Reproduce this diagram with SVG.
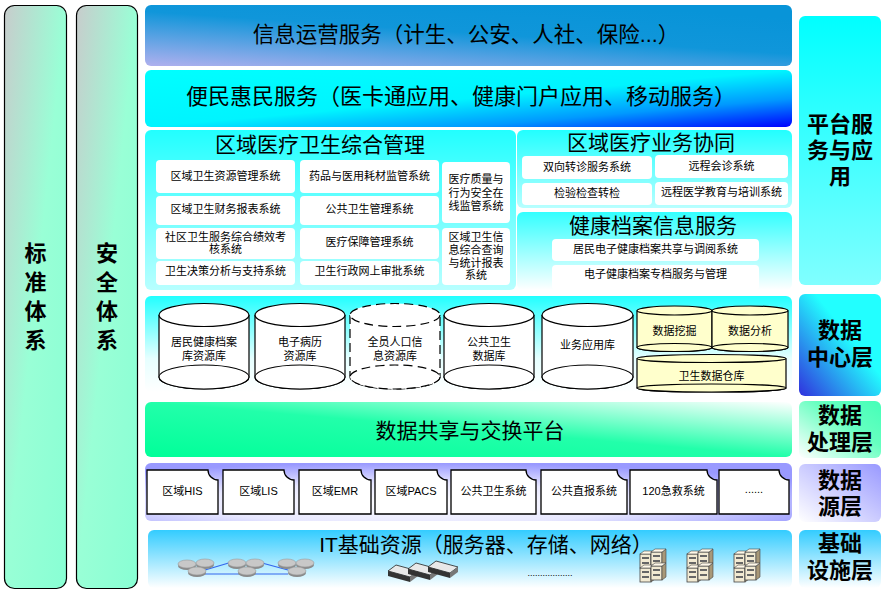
<svg xmlns="http://www.w3.org/2000/svg" width="894" height="596" viewBox="0 0 894 596">
<style>
text{font-family:"Liberation Sans","Noto Sans CJK SC",sans-serif;fill:#000;text-anchor:middle;dominant-baseline:central}
.t21{font-size:21px}
.t11{font-size:11px}
.lb{font-size:22px;font-weight:bold}
.wb{fill:#fff}
.cyl{fill:#fff;stroke:#000;stroke-width:1.2}
.cyd{fill:#fff;stroke:#000;stroke-width:1.2;stroke-dasharray:9 5}
.ycl{fill:#ffffcc;stroke:#000;stroke-width:1.2}
.doc{fill:#fff;stroke:#000;stroke-width:1.3}
</style>
<defs>
<linearGradient id="gCol" x1="0" y1="0" x2="1" y2="1"><stop offset="0" stop-color="#c8cccc"/><stop offset="0.5" stop-color="#99ffd6"/><stop offset="1" stop-color="#88ffd4"/></linearGradient>
<linearGradient id="gTop" x1="0" y1="1" x2="0.7" y2="0"><stop offset="0" stop-color="#b0b0ee"/><stop offset="0.6" stop-color="#1096da"/><stop offset="1" stop-color="#0894d8"/></linearGradient>
<linearGradient id="gBar2" x1="0" y1="0" x2="1" y2="1"><stop offset="0" stop-color="#00ffff"/><stop offset="0.5" stop-color="#00f4ff"/><stop offset="0.75" stop-color="#0099ff"/><stop offset="1" stop-color="#0000ff"/></linearGradient>
<linearGradient id="gPanA" x1="0" y1="0" x2="0" y2="1"><stop offset="0" stop-color="#22ffff"/><stop offset="1" stop-color="#b8ffff"/></linearGradient>
<linearGradient id="gPanC" x1="0" y1="0" x2="0" y2="1"><stop offset="0" stop-color="#33ffff"/><stop offset="1" stop-color="#ffffff"/></linearGradient>
<linearGradient id="gL1" x1="0" y1="0" x2="0" y2="1"><stop offset="0" stop-color="#00ffff"/><stop offset="1" stop-color="#80ffff"/></linearGradient>
<linearGradient id="gDC" x1="0" y1="0" x2="0" y2="1"><stop offset="0" stop-color="#22ffff"/><stop offset="0.65" stop-color="#e6ffff"/><stop offset="1" stop-color="#ffffff"/></linearGradient>
<linearGradient id="gL2" x1="0" y1="1" x2="1" y2="0"><stop offset="0" stop-color="#3030dd"/><stop offset="0.6" stop-color="#22ffff"/><stop offset="1" stop-color="#22ffff"/></linearGradient>
<linearGradient id="gDP" x1="0" y1="1" x2="1" y2="0"><stop offset="0" stop-color="#00ff99"/><stop offset="0.5" stop-color="#22ffaa"/><stop offset="1" stop-color="#ffffff"/></linearGradient>
<linearGradient id="gL3" x1="0" y1="1" x2="1" y2="0"><stop offset="0" stop-color="#ffffff"/><stop offset="0.6" stop-color="#66ffc0"/><stop offset="1" stop-color="#44ffb8"/></linearGradient>
<radialGradient id="gDS" cx="0.42" cy="0.7" r="0.7"><stop offset="0" stop-color="#ffffff"/><stop offset="0.5" stop-color="#e8e8ff"/><stop offset="1" stop-color="#9999ff"/></radialGradient>
<linearGradient id="gL4" x1="0" y1="1" x2="1" y2="0"><stop offset="0" stop-color="#ffffff"/><stop offset="1" stop-color="#9999ff"/></linearGradient>
<linearGradient id="gIN" x1="0" y1="0" x2="0" y2="1"><stop offset="0" stop-color="#33ccff"/><stop offset="1" stop-color="#ffffff"/></linearGradient>
<g id="router"><ellipse cx="0" cy="2" rx="9" ry="4" fill="#8a8a8a"/><ellipse cx="0" cy="0" rx="9" ry="4" fill="#c8c8c8" stroke="#999" stroke-width="0.6"/></g>
<g id="switch"><polygon points="0,6 8,0 30,6 22,12" fill="#e8e8e8" stroke="#222" stroke-width="0.8"/><polygon points="0,6 22,12 22,17 0,11" fill="#333"/><polygon points="22,12 30,6 30,11 22,17" fill="#777"/></g>
<g id="srv"><rect x="0" y="0" width="11" height="14" fill="#f2ead2" stroke="#444" stroke-width="0.8"/><polygon points="11,0 15,-3 15,11 11,14" fill="#a89878" stroke="#444" stroke-width="0.6"/><polygon points="0,0 4,-3 15,-3 11,0" fill="#fff8e8" stroke="#444" stroke-width="0.6"/><rect x="2" y="3" width="7" height="2" fill="#666"/><rect x="2" y="8" width="7" height="2" fill="#666"/></g>
</defs>

<g id="col-standard"><rect x="4.5" y="5.5" width="62" height="583" rx="10" fill="url(#gCol)" stroke="#000" stroke-width="1.2"/>
<text class="lb" x="35.5" y="253">标</text><text class="lb" x="35.5" y="282">准</text><text class="lb" x="35.5" y="311">体</text><text class="lb" x="35.5" y="340">系</text></g>
<g id="col-security"><rect x="76.5" y="5.5" width="61" height="583" rx="10" fill="url(#gCol)" stroke="#000" stroke-width="1.2"/>
<text class="lb" x="107" y="253">安</text><text class="lb" x="107" y="282">全</text><text class="lb" x="107" y="311">体</text><text class="lb" x="107" y="340">系</text></g>

<g id="info-ops"><rect x="145" y="5" width="647" height="61" rx="6" fill="url(#gTop)"/><text class="t21" x="466" y="35" style="font-size:21.5px">信息运营服务（计生、公安、人社、保险...）</text></g>
<g id="convenience"><rect x="145" y="70" width="647" height="57" rx="6" fill="url(#gBar2)"/><text class="t21" x="461" y="96" style="font-size:22px">便民惠民服务（医卡通应用、健康门户应用、移动服务）</text></g>

<g id="regional-mgmt"><rect x="145" y="130" width="371" height="160" rx="6" fill="url(#gPanA)"/>
<text class="t21" x="320" y="144">区域医疗卫生综合管理</text>
<rect class="wb" x="156" y="160" width="139" height="33" rx="4"/><text class="t11" x="225.5" y="176">区域卫生资源管理系统</text>
<rect class="wb" x="300" y="160" width="139" height="33" rx="4"/><text class="t11" x="369.5" y="176">药品与医用耗材监管系统</text>
<rect class="wb" x="156" y="196" width="139" height="29" rx="4"/><text class="t11" x="225.5" y="209">区域卫生财务报表系统</text>
<rect class="wb" x="300" y="196" width="139" height="29" rx="4"/><text class="t11" x="369.5" y="209">公共卫生管理系统</text>
<rect class="wb" x="156" y="228" width="139" height="31" rx="4"/><text class="t11" x="225.5" y="237">社区卫生服务综合绩效考</text><text class="t11" x="225.5" y="249">核系统</text>
<rect class="wb" x="300" y="228" width="139" height="31" rx="4"/><text class="t11" x="369.5" y="242">医疗保障管理系统</text>
<rect class="wb" x="156" y="261" width="139" height="24" rx="4"/><text class="t11" x="225.5" y="271">卫生决策分析与支持系统</text>
<rect class="wb" x="300" y="261" width="139" height="24" rx="4"/><text class="t11" x="369.5" y="271">卫生行政网上审批系统</text>
<rect class="wb" x="442" y="162" width="68" height="61" rx="4"/><text class="t11" x="476" y="179">医疗质量与</text><text class="t11" x="476" y="192.5">行为安全在</text><text class="t11" x="476" y="206">线监管系统</text>
<rect class="wb" x="442" y="228" width="68" height="57" rx="4"/><text class="t11" x="476" y="237">区域卫生信</text><text class="t11" x="476" y="250">息综合查询</text><text class="t11" x="476" y="262.5">与统计报表</text><text class="t11" x="476" y="275">系统</text>
</g>

<g id="regional-collab"><rect x="517" y="130" width="275" height="78" rx="6" fill="url(#gPanA)"/>
<text class="t21" x="651" y="142">区域医疗业务协同</text>
<rect class="wb" x="522" y="156" width="130" height="23" rx="4"/><text class="t11" x="587" y="167">双向转诊服务系统</text>
<rect class="wb" x="655" y="155" width="133" height="23" rx="4"/><text class="t11" x="721.5" y="166">远程会诊系统</text>
<rect class="wb" x="522" y="183" width="130" height="22" rx="4"/><text class="t11" x="587" y="193">检验检查转检</text>
<rect class="wb" x="655" y="182" width="133" height="23" rx="4"/><text class="t11" x="721.5" y="192">远程医学教育与培训系统</text>
</g>

<g id="health-records"><rect x="517" y="212" width="275" height="78" rx="6" fill="url(#gPanC)"/>
<text class="t21" x="653" y="225">健康档案信息服务</text>
<rect class="wb" x="552" y="239" width="207" height="22" rx="4"/><text class="t11" x="655.5" y="249">居民电子健康档案共享与调阅系统</text>
<rect class="wb" x="552" y="265" width="207" height="25" rx="4"/><text class="t11" x="655.5" y="274">电子健康档案专档服务与管理</text>
</g>

<g id="label-platform"><rect x="799" y="16" width="82" height="269" rx="6" fill="url(#gL1)"/>
<text class="lb" x="840" y="124">平台服</text><text class="lb" x="840" y="150">务与应</text><text class="lb" x="840" y="176">用</text></g>

<g id="data-center"><rect x="145" y="296" width="647" height="96" rx="6" fill="url(#gDC)"/>
<g id="db1"><path class="cyl" d="M159,315 V377 A45,12 0 0 0 249,377 V315"/><ellipse class="cyl" cx="204" cy="315" rx="45" ry="11.5"/><ellipse class="cyl" cx="204" cy="377" rx="45" ry="12"/>
<text class="t11" x="204" y="342">居民健康档案</text><text class="t11" x="204" y="355.5">库资源库</text></g>
<g id="db2"><path class="cyl" d="M255,315 V377 A45,12 0 0 0 345,377 V315"/><ellipse class="cyl" cx="300" cy="315" rx="45" ry="11.5"/><ellipse class="cyl" cx="300" cy="377" rx="45" ry="12"/>
<text class="t11" x="300" y="342">电子病历</text><text class="t11" x="300" y="355.5">资源库</text></g>
<g id="db3"><path class="cyd" d="M350,315 V377 A45,12 0 0 0 440,377 V315"/><ellipse class="cyd" cx="395" cy="315" rx="45" ry="11.5"/><ellipse class="cyd" cx="395" cy="377" rx="45" ry="12"/>
<text class="t11" x="395" y="342">全员人口信</text><text class="t11" x="395" y="355.5">息资源库</text></g>
<g id="db4"><path class="cyl" d="M444,315 V377 A45,12 0 0 0 534,377 V315"/><ellipse class="cyl" cx="489" cy="315" rx="45" ry="11.5"/><ellipse class="cyl" cx="489" cy="377" rx="45" ry="12"/>
<text class="t11" x="489" y="342">公共卫生</text><text class="t11" x="489" y="355.5">数据库</text></g>
<g id="db5"><path class="cyl" d="M542,315 V377 A45.5,12 0 0 0 633,377 V315"/><ellipse class="cyl" cx="587.5" cy="315" rx="45.5" ry="11.5"/><ellipse class="cyl" cx="587.5" cy="377" rx="45.5" ry="12"/>
<text class="t11" x="587.5" y="345">业务应用库</text></g>
<g id="mining"><path class="ycl" d="M637,310.5 V347.5 A37.5,4 0 0 0 712,347.5 V310.5"/><ellipse class="ycl" cx="674.5" cy="310.5" rx="37.5" ry="4.5"/><ellipse class="ycl" cx="674.5" cy="347.5" rx="37.5" ry="4"/><text class="t11" x="674.5" y="331">数据挖掘</text></g>
<g id="analysis"><path class="ycl" d="M712,310.5 V347.5 A38,4 0 0 0 788,347.5 V310.5"/><ellipse class="ycl" cx="750" cy="310.5" rx="38" ry="4.5"/><ellipse class="ycl" cx="750" cy="347.5" rx="38" ry="4"/><text class="t11" x="750" y="331">数据分析</text></g>
<g id="warehouse"><path class="ycl" d="M637,358.5 V388 A74.5,4 0 0 0 786,388 V358.5"/><ellipse class="ycl" cx="711.5" cy="358.5" rx="74.5" ry="4"/><ellipse class="ycl" cx="711.5" cy="388" rx="74.5" ry="4"/><text class="t11" x="711.5" y="376">卫生数据仓库</text></g>
</g>
<g id="label-datacenter"><rect x="799" y="294" width="82" height="102" rx="6" fill="url(#gL2)"/>
<text class="lb" x="840" y="330">数据</text><text class="lb" x="840" y="357">中心层</text></g>

<g id="data-exchange"><rect x="145" y="402" width="647" height="55" rx="6" fill="url(#gDP)"/><text class="t21" x="470" y="430">数据共享与交换平台</text></g>
<g id="label-processing"><rect x="799" y="401" width="82" height="57" rx="6" fill="url(#gL3)"/>
<text class="lb" x="840" y="415">数据</text><text class="lb" x="840" y="442">处理层</text></g>

<g id="data-source"><rect x="145" y="463" width="647" height="58" rx="6" fill="url(#gDS)"/>
<g id="src1"><path class="doc" d="M147,470 H208 A10,10 0 0 0 218,480 V514 H147 Z"/><text class="t11" x="182.5" y="491">区域HIS</text></g>
<g id="src2"><path class="doc" d="M223,470 H284 A10,10 0 0 0 294,480 V514 H223 Z"/><text class="t11" x="258.5" y="491">区域LIS</text></g>
<g id="src3"><path class="doc" d="M299,470 H361 A10,10 0 0 0 371,480 V514 H299 Z"/><text class="t11" x="335" y="491">区域EMR</text></g>
<g id="src4"><path class="doc" d="M375,470 H437 A10,10 0 0 0 447,480 V514 H375 Z"/><text class="t11" x="411" y="491">区域PACS</text></g>
<g id="src5"><path class="doc" d="M451,470 H526 A10,10 0 0 0 536,480 V514 H451 Z"/><text class="t11" x="493.5" y="491">公共卫生系统</text></g>
<g id="src6"><path class="doc" d="M541,470 H617 A10,10 0 0 0 627,480 V514 H541 Z"/><text class="t11" x="584" y="491">公共直报系统</text></g>
<g id="src7"><path class="doc" d="M630,470 H707 A10,10 0 0 0 717,480 V514 H630 Z"/><text class="t11" x="673.5" y="491">120急救系统</text></g>
<g id="src8"><path class="doc" d="M719,470 H779 A10,10 0 0 0 789,480 V514 H719 Z"/><text class="t11" x="754" y="489">......</text></g>
</g>
<g id="label-source"><rect x="799" y="464" width="82" height="58" rx="6" fill="url(#gL4)"/>
<text class="lb" x="840" y="480">数据</text><text class="lb" x="840" y="506">源层</text></g>

<g id="infrastructure"><rect x="148" y="530" width="644" height="58" rx="6" fill="url(#gIN)"/>
<text class="t21" x="486" y="544">IT基础资源（服务器、存储、网络）</text>
<g id="network">
<g stroke="#3366ee" stroke-width="1.2" fill="none"><line x1="205" y1="570" x2="232" y2="562"/><line x1="205" y1="574" x2="288" y2="574"/><line x1="262" y1="563" x2="288" y2="570"/></g>
<use href="#router" x="187" y="564"/><use href="#router" x="205" y="563"/><use href="#router" x="197" y="571"/>
<use href="#router" x="237" y="563"/><use href="#router" x="255" y="563"/><use href="#router" x="247" y="571"/>
<use href="#router" x="287" y="563"/><use href="#router" x="305" y="563"/><use href="#router" x="297" y="571"/>
</g>
<g id="switches"><use href="#switch" x="388" y="565"/><use href="#switch" x="408" y="563"/><use href="#switch" x="428" y="561"/></g>
<text x="550" y="573" style="font-size:9px">..................</text>
<g id="servers">
<use href="#srv" x="640" y="554"/><use href="#srv" x="651" y="552"/><use href="#srv" x="640" y="568"/><use href="#srv" x="651" y="566"/>
<use href="#srv" x="687" y="554"/><use href="#srv" x="698" y="552"/><use href="#srv" x="687" y="568"/><use href="#srv" x="698" y="566"/>
<use href="#srv" x="734" y="554"/><use href="#srv" x="745" y="552"/><use href="#srv" x="734" y="568"/><use href="#srv" x="745" y="566"/>
</g>
</g>
<g id="label-infra"><rect x="799" y="530" width="82" height="58" rx="6" fill="url(#gIN)"/>
<text class="lb" x="840" y="543">基础</text><text class="lb" x="840" y="570">设施层</text></g>
<g id="connectors"/>
</svg>
